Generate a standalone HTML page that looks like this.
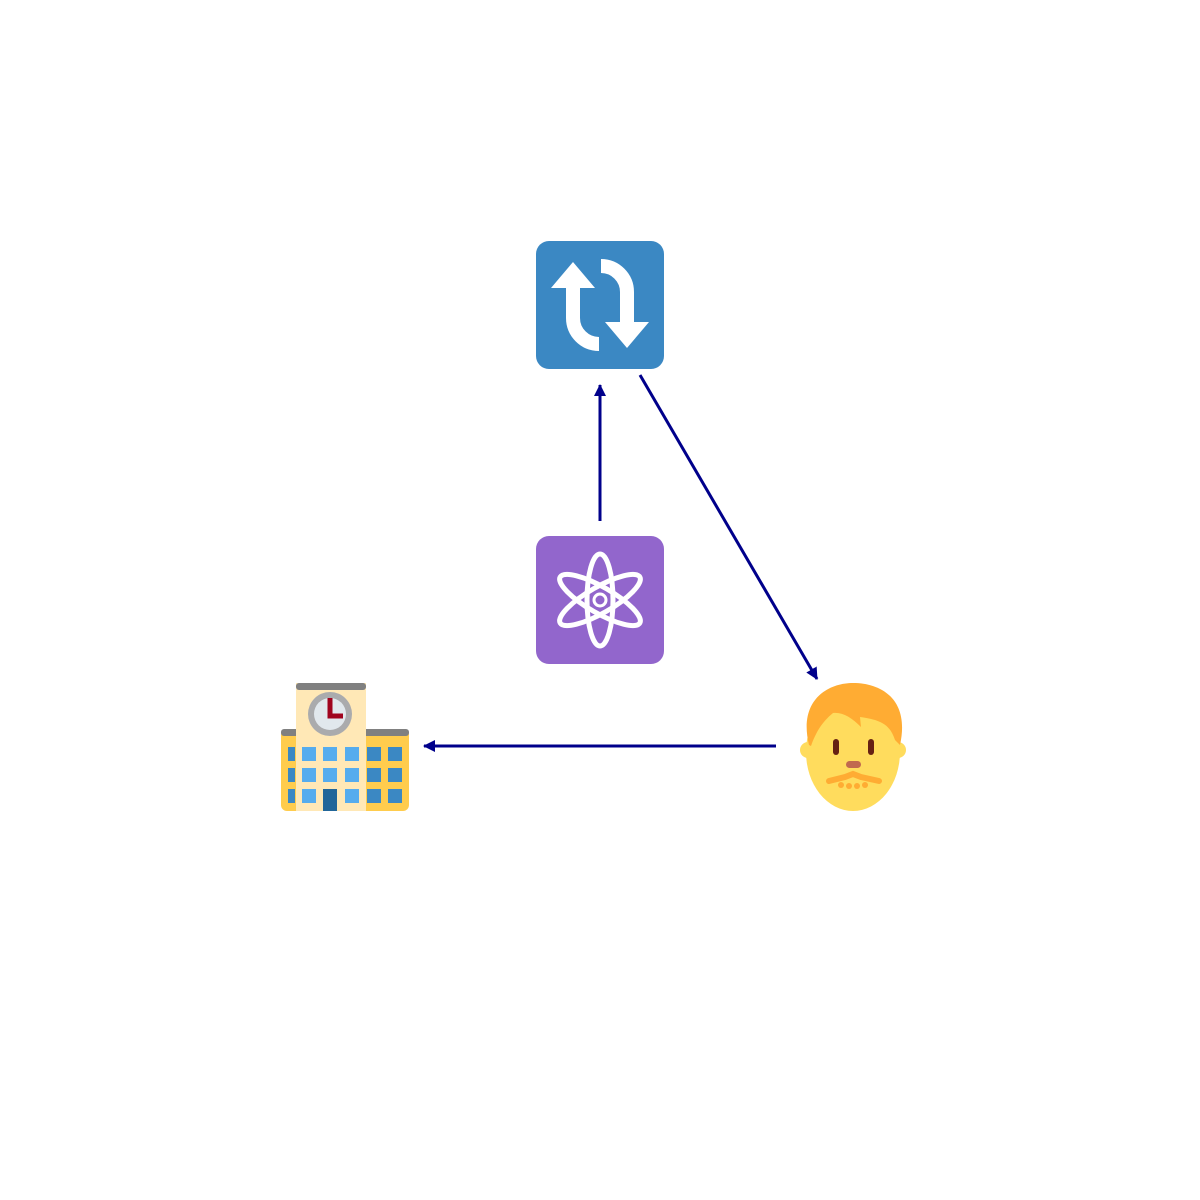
<!DOCTYPE html>
<html><head><style>html,body{margin:0;padding:0;background:#fff;width:1200px;height:1200px;overflow:hidden}</style></head>
<body>
<svg width="1200" height="1200" viewBox="0 0 1200 1200" xmlns="http://www.w3.org/2000/svg">
<defs>
<marker id="ah" markerWidth="12" markerHeight="12" refX="11" refY="6" orient="auto" markerUnits="userSpaceOnUse">
<path d="M0,0 L12,6 L0,12 z" fill="#00008b"/>
</marker>
</defs>
<rect x="536" y="241" width="128" height="128" rx="13" fill="#3b88c3"/>
<path d="M573 288 V318 A26 26 0 0 0 599 344" fill="none" stroke="#fff" stroke-width="14"/>
<path d="M551 288 L573 262 L595 288 z" fill="#fff"/>
<path d="M627 322 V292 A26 26 0 0 0 601 266" fill="none" stroke="#fff" stroke-width="14"/>
<path d="M605 322 L627 348 L649 322 z" fill="#fff"/>
<rect x="536" y="536" width="128" height="128" rx="13" fill="#9266cc"/>
<g fill="none" stroke="#fff" stroke-width="5" transform="translate(600,600)">
<ellipse rx="13" ry="46"/>
<ellipse rx="13" ry="46" transform="rotate(60)"/>
<ellipse rx="13" ry="46" transform="rotate(-60)"/>
<circle r="6" stroke-width="3"/>
</g>
<rect x="281" y="729" width="128" height="82" rx="6" fill="#ffcc4d"/>
<rect x="281" y="729" width="128" height="7" rx="3" fill="#808080"/>
<rect x="296" y="683" width="70" height="128" fill="#ffe8b6"/>
<rect x="296" y="683" width="70" height="7" rx="3" fill="#808080"/>
<circle cx="330" cy="714" r="22" fill="#aaabad"/>
<circle cx="330" cy="714" r="16" fill="#e1e8ed"/>
<path d="M330 698 V716 H343" fill="none" stroke="#a0041e" stroke-width="5"/>
<g fill="#55acee">
<rect x="302" y="747" width="14" height="14"/><rect x="323" y="747" width="14" height="14"/><rect x="345" y="747" width="14" height="14"/>
<rect x="302" y="768" width="14" height="14"/><rect x="323" y="768" width="14" height="14"/><rect x="345" y="768" width="14" height="14"/>
<rect x="302" y="789" width="14" height="14"/><rect x="345" y="789" width="14" height="14"/>
</g>
<g fill="#3b88c3">
<rect x="288" y="747" width="7" height="14"/><rect x="288" y="768" width="7" height="14"/><rect x="288" y="789" width="7" height="14"/>
<rect x="367" y="747" width="14" height="14"/><rect x="388" y="747" width="14" height="14"/>
<rect x="367" y="768" width="14" height="14"/><rect x="388" y="768" width="14" height="14"/>
<rect x="367" y="789" width="14" height="14"/><rect x="388" y="789" width="14" height="14"/>
</g>
<rect x="323" y="789" width="14" height="22" fill="#226699"/>
<circle cx="808" cy="750" r="8" fill="#ffdc5d"/>
<circle cx="898" cy="750" r="8" fill="#ffdc5d"/>
<ellipse cx="853" cy="752" rx="47" ry="59" fill="#ffdc5d"/>
<path d="M809 745 C798 700 828 683 853 683 C882 683 910 700 900 745 L895 740 C890 725 882 720 860 717 L861 727 C852 718 843 712 833 713 C822 722 816 732 811 746 z" fill="#ffac33"/>
<rect x="833" y="739" width="6" height="16" rx="3" fill="#662113"/>
<rect x="868" y="739" width="6" height="16" rx="3" fill="#662113"/>
<rect x="846" y="761" width="15" height="7" rx="3.5" fill="#c1694f"/>
<path d="M829 781 L845 777 L853 774 L861 777 L879 781" fill="none" stroke="#ffac33" stroke-width="6" stroke-linecap="round"/>
<g fill="#ffac33"><circle cx="841" cy="785" r="3"/><circle cx="849" cy="786" r="3"/><circle cx="857" cy="786" r="3"/><circle cx="865" cy="785" r="3"/></g>
<g stroke="#00008b" stroke-width="3" fill="none">
<line x1="600" y1="521" x2="600" y2="385" marker-end="url(#ah)"/>
<line x1="640" y1="375" x2="817" y2="679" marker-end="url(#ah)"/>
<line x1="776" y1="746" x2="424" y2="746" marker-end="url(#ah)"/>
</g>
</svg>
</body></html>
